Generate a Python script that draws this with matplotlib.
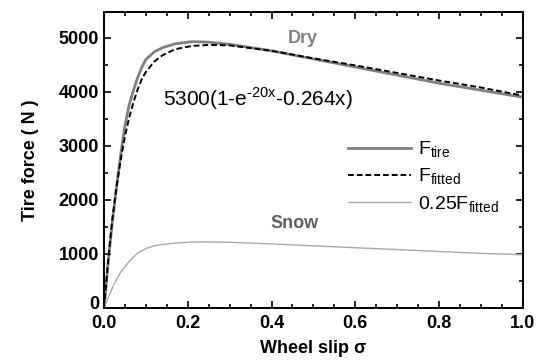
import matplotlib.pyplot as plt
from matplotlib.ticker import MultipleLocator
from matplotlib.transforms import ScaledTranslation

plt.rcParams['font.family'] = ['Liberation Sans', 'DejaVu Sans']
plt.rcParams['mathtext.fontset'] = 'custom'
plt.rcParams['mathtext.rm'] = 'Liberation Sans'

# Values
slip = [0, 0.01, 0.02, 0.03, 0.04, 0.05, 0.06, 0.07, 0.08, 0.09, 0.10, 0.12,
        0.14, 0.17, 0.21, 0.25, 0.30, 0.35, 0.40, 0.50, 0.60, 0.70, 0.80, 0.90, 1.00]
f_tire = [0, 850, 1600, 2250, 2850, 3380, 3760, 4020, 4260, 4450, 4600, 4740,
          4820, 4890, 4930, 4920, 4880, 4820, 4760, 4610, 4460, 4310, 4160, 4030, 3900]
f_fitted = [0, 900, 1650, 2250, 2750, 3180, 3520, 3800, 4040, 4230, 4370, 4560,
            4680, 4790, 4850, 4870, 4860, 4810, 4760, 4620, 4490, 4350, 4210, 4080, 3930]
f_snow = [0, 190, 370, 530, 660, 765, 860, 940, 1010, 1060, 1100, 1150,
          1175, 1200, 1220, 1222, 1215, 1200, 1185, 1150, 1115, 1080, 1045, 1010, 985]

fig = plt.figure(figsize=(5.39, 3.61), dpi=100)
ax = fig.add_axes([0.193, 0.147, 0.777, 0.820])

ax.plot(slip, f_tire, color='#808080', lw=2, label=r'F$_{\rm tire}$')
ax.plot(slip, f_fitted, color='black', lw=1.4, ls=(0, (3, 1.5)), label=r'F$_{\rm fitted}$')
ax.plot(slip, f_snow, color='#a8a8a8', lw=1, label=r'0.25F$_{\rm fitted}$')

ax.set_xlim(0, 1)
ax.set_ylim(0, 5480)
ax.xaxis.set_major_locator(MultipleLocator(0.2))
ax.xaxis.set_minor_locator(MultipleLocator(0.05))
ax.yaxis.set_major_locator(MultipleLocator(1000))
ax.yaxis.set_minor_locator(MultipleLocator(500))
ax.xaxis.set_major_formatter(plt.FormatStrFormatter('%.1f'))
ax.tick_params(which='both', direction='in', top=True, right=True, width=1.2)
ax.tick_params(which='major', length=5, labelsize=13)
ax.tick_params(which='minor', length=3)
ax.tick_params(axis='x', pad=5)
for lab in ax.get_xticklabels() + ax.get_yticklabels():
    lab.set_fontweight('bold')
for s in ax.spines.values():
    s.set_linewidth(1.4)

ax.set_xlabel('Wheel slip σ', fontsize=13, fontweight='bold', labelpad=6)
ax.set_ylabel('Tire force ( N )', fontsize=13, fontweight='bold', labelpad=14)

ax.text(0.474, 4990, 'Dry', color='#808080', fontsize=13, fontweight='bold', ha='center', va='center')
ax.text(0.455, 1570, 'Snow', color='#606060', fontsize=13, fontweight='bold', ha='center', va='center')
ax.text(0.14, 3880, r'5300(1-e$^{\text{-20x}}$-0.264x)', fontsize=15, ha='left', va='center')

ax.legend(loc='upper left', bbox_to_anchor=(0.56, 0.6), frameon=False, fontsize=14,
          handlelength=3.2, handletextpad=0.4, labelspacing=0.35, borderpad=0)

# lift the "0" on the y axis a bit, like in the original
fig.canvas.draw()
for lab in ax.get_yticklabels():
    if lab.get_text() == '0':
        lab.set_transform(lab.get_transform() + ScaledTranslation(0, 4 / 72, fig.dpi_scale_trans))

fig.savefig('out.png', dpi=100)
